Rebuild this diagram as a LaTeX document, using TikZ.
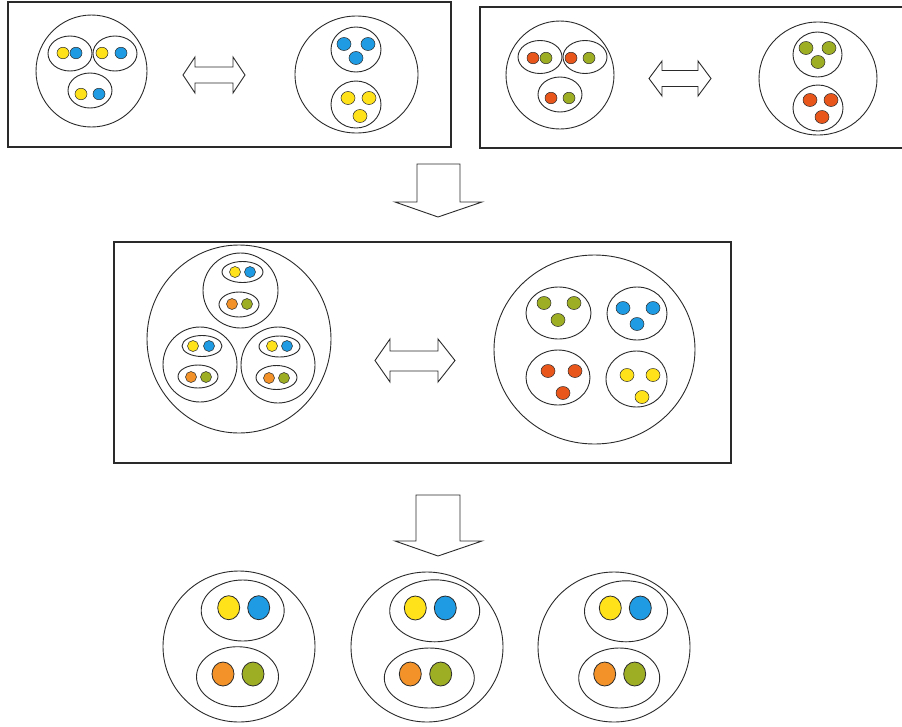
\documentclass[tikz,border=0pt]{standalone}
\usetikzlibrary{shapes.geometric}
\definecolor{yel}{HTML}{FFE21A}
\definecolor{blu}{HTML}{1E9BE2}
\definecolor{org}{HTML}{F29228}
\definecolor{oli}{HTML}{9EAE24}
\definecolor{rd}{HTML}{E8561C}
\definecolor{ink}{HTML}{2A2A2A}
\tikzset{
  frame/.style={draw=ink, line width=1.3pt},
  ring/.style={ellipse, draw=ink, line width=0.9pt, inner sep=0pt, fill=white},
  bead/.style={ellipse, draw=ink, line width=0.5pt, inner sep=0pt, minimum width=12pt, minimum height=11.5pt},
  midbead/.style={bead, minimum width=11pt, minimum height=11pt},
  fatbead/.style={bead, minimum width=14pt, minimum height=13pt},
  bigbead/.style={bead, line width=0.8pt, minimum width=22pt, minimum height=24pt},
  blockarrow/.style={draw=ink, line width=0.9pt, fill=white, line join=miter}
}
\newcommand\ringat[4]{\node[ring, minimum width=#3pt, minimum height=#4pt] (#1) at (#2) {};}
\begin{document}
\begin{tikzpicture}[x=1pt,y=-1pt]
\useasboundingbox (0,0) rectangle (902,726);

% ---------- top left frame: yellow/blue ----------
\draw[frame] (8,2) rectangle (451,147);
\ringat{a}{91.5,71}{111}{112}
\ringat{a1}{70,53.5}{44}{35}
\ringat{a2}{115,53.5}{44}{35}
\ringat{a3}{90,90.5}{44}{35}
\node[bead, fill=yel] (a1y) at (63,53) {};
\node[bead, fill=blu] (a1b) at (76,53) {};
\node[bead, fill=yel] (a2y) at (102,53) {};
\node[bead, fill=blu] (a2b) at (121,53) {};
\node[bead, fill=yel] (a3y) at (81,94) {};
\node[bead, fill=blu] (a3b) at (99,94) {};

\draw[blockarrow] (183,75) -- (195,57) -- (195,67) -- (233,67) -- (233,57) -- (245,75)
  -- (233,93) -- (233,83) -- (195,83) -- (195,93) -- cycle;

\ringat{b}{356.5,74.5}{123}{117}
\ringat{b1}{356,49.5}{50}{45}
\ringat{b2}{356,104.5}{50}{47}
\node[fatbead, fill=blu] (b1p) at (344,44) {};
\node[fatbead, fill=blu] (b1q) at (368,44) {};
\node[fatbead, fill=blu] (b1r) at (356,58) {};
\node[fatbead, fill=yel] (b2p) at (348,98) {};
\node[fatbead, fill=yel] (b2q) at (369,98) {};
\node[fatbead, fill=yel] (b2r) at (360,116) {};

% ---------- top right frame: red/green (open on the right) ----------
\draw[frame] (905,7) -- (480,7) -- (480,148) -- (905,148);
\ringat{c}{560,75}{108}{108}
\ringat{c1}{540,57}{44}{33}
\ringat{c2}{585,57}{44}{33}
\ringat{c3}{560,94.5}{44}{35}
\node[bead, fill=rd]  (c1r) at (533,58) {};
\node[bead, fill=oli] (c1g) at (546,58) {};
\node[bead, fill=rd]  (c2r) at (571,58) {};
\node[bead, fill=oli] (c2g) at (589,58) {};
\node[bead, fill=rd]  (c3r) at (551,98) {};
\node[bead, fill=oli] (c3g) at (569,98) {};

\draw[blockarrow] (649,78.5) -- (662,61) -- (662,70.5) -- (698,70.5) -- (698,61) -- (711,78.5)
  -- (698,96) -- (698,86.5) -- (662,86.5) -- (662,96) -- cycle;

\ringat{d}{818,78.5}{118}{113}
\ringat{d1}{817.5,54.5}{49}{45}
\ringat{d2}{818,108}{50}{46}
\node[fatbead, fill=oli] (d1p) at (806,48) {};
\node[fatbead, fill=oli] (d1q) at (829,48) {};
\node[fatbead, fill=oli] (d1r) at (818,62) {};
\node[fatbead, fill=rd]  (d2p) at (810,100) {};
\node[fatbead, fill=rd]  (d2q) at (831,100) {};
\node[fatbead, fill=rd]  (d2r) at (822,117) {};

% ---------- first downward arrow ----------
\draw[blockarrow] (417,164) -- (460,164) -- (460,202) -- (482,202) -- (438,217)
  -- (395,202) -- (417,202) -- cycle;

% ---------- middle frame ----------
\draw[frame] (114,242) rectangle (731,463);
\ringat{e}{239,339}{184}{188}
\ringat{e1}{240.5,290.5}{75}{75}
\ringat{e2}{200,364.5}{74}{75}
\ringat{e3}{278,365}{74}{76}
\ringat{e1a}{242.5,272}{41}{21}
\ringat{e1b}{239,304.5}{40}{25}
\ringat{e2a}{202,346}{40}{21}
\ringat{e2b}{198,376.5}{40}{23}
\ringat{e3a}{279.5,346.5}{41}{21}
\ringat{e3b}{276.5,377.5}{41}{24}
\node[midbead, fill=yel] (e1ay) at (235,272) {};
\node[midbead, fill=blu] (e1ab) at (250,272) {};
\node[midbead, fill=org] (e1bo) at (232,304) {};
\node[midbead, fill=oli] (e1bg) at (247,304) {};
\node[midbead, fill=yel] (e2ay) at (193,346) {};
\node[midbead, fill=blu] (e2ab) at (209,346) {};
\node[midbead, fill=org] (e2bo) at (191,377) {};
\node[midbead, fill=oli] (e2bg) at (206,377) {};
\node[midbead, fill=yel] (e3ay) at (272,346) {};
\node[midbead, fill=blu] (e3ab) at (287,346) {};
\node[midbead, fill=org] (e3bo) at (269,378) {};
\node[midbead, fill=oli] (e3bg) at (284,378) {};

\draw[blockarrow] (375,360.5) -- (390,339) -- (390,351) -- (438,351) -- (438,339) -- (455,360.5)
  -- (438,382) -- (438,371) -- (390,371) -- (390,382) -- cycle;

\ringat{f}{594.5,349.5}{201}{189}
\ringat{f1}{558.5,313}{65}{52}
\ringat{f2}{637,313.5}{60}{53}
\ringat{f3}{558,377.5}{64}{55}
\ringat{f4}{636.5,379}{61}{56}
\node[fatbead, fill=oli] (f1p) at (544,303) {};
\node[fatbead, fill=oli] (f1q) at (574,303) {};
\node[fatbead, fill=oli] (f1r) at (558,320) {};
\node[fatbead, fill=blu] (f2p) at (623,308) {};
\node[fatbead, fill=blu] (f2q) at (653,308) {};
\node[fatbead, fill=blu] (f2r) at (637,324) {};
\node[fatbead, fill=rd]  (f3p) at (548,371) {};
\node[fatbead, fill=rd]  (f3q) at (575,371) {};
\node[fatbead, fill=rd]  (f3r) at (563,393) {};
\node[fatbead, fill=yel] (f4p) at (627,375) {};
\node[fatbead, fill=yel] (f4q) at (653,375) {};
\node[fatbead, fill=yel] (f4r) at (642,397) {};

% ---------- second downward arrow ----------
\draw[blockarrow] (416,495) -- (460,495) -- (460,541) -- (482,541) -- (438,556)
  -- (395,541) -- (416,541) -- cycle;

% ---------- bottom row of three ----------
\ringat{g}{239,646.5}{152}{151}
\ringat{g1}{242.7,610.5}{83}{61}
\ringat{g2}{237.5,676.7}{82}{60}
\node[bigbead, fill=yel] (g1y) at (228.7,607.7) {};
\node[bigbead, fill=blu] (g1b) at (258.7,607.7) {};
\node[bigbead, fill=org] (g2o) at (223,674) {};
\node[bigbead, fill=oli] (g2g) at (253,674) {};

\ringat{h}{427,647}{152}{150}
\ringat{h1}{434.7,610.8}{90}{62}
\ringat{h2}{429.3,678}{90}{60}
\node[bigbead, fill=yel] (h1y) at (415.3,608) {};
\node[bigbead, fill=blu] (h1b) at (445.3,608) {};
\node[bigbead, fill=org] (h2o) at (410.3,674) {};
\node[bigbead, fill=oli] (h2g) at (440.7,674) {};

\ringat{i}{614,647}{152}{150}
\ringat{i1}{626,611.3}{83}{61}
\ringat{i2}{619.2,678}{81}{60}
\node[bigbead, fill=yel] (i1y) at (610.3,608) {};
\node[bigbead, fill=blu] (i1b) at (640.3,608) {};
\node[bigbead, fill=org] (i2o) at (604.7,674) {};
\node[bigbead, fill=oli] (i2g) at (634.7,674) {};
\end{tikzpicture}
\end{document}
